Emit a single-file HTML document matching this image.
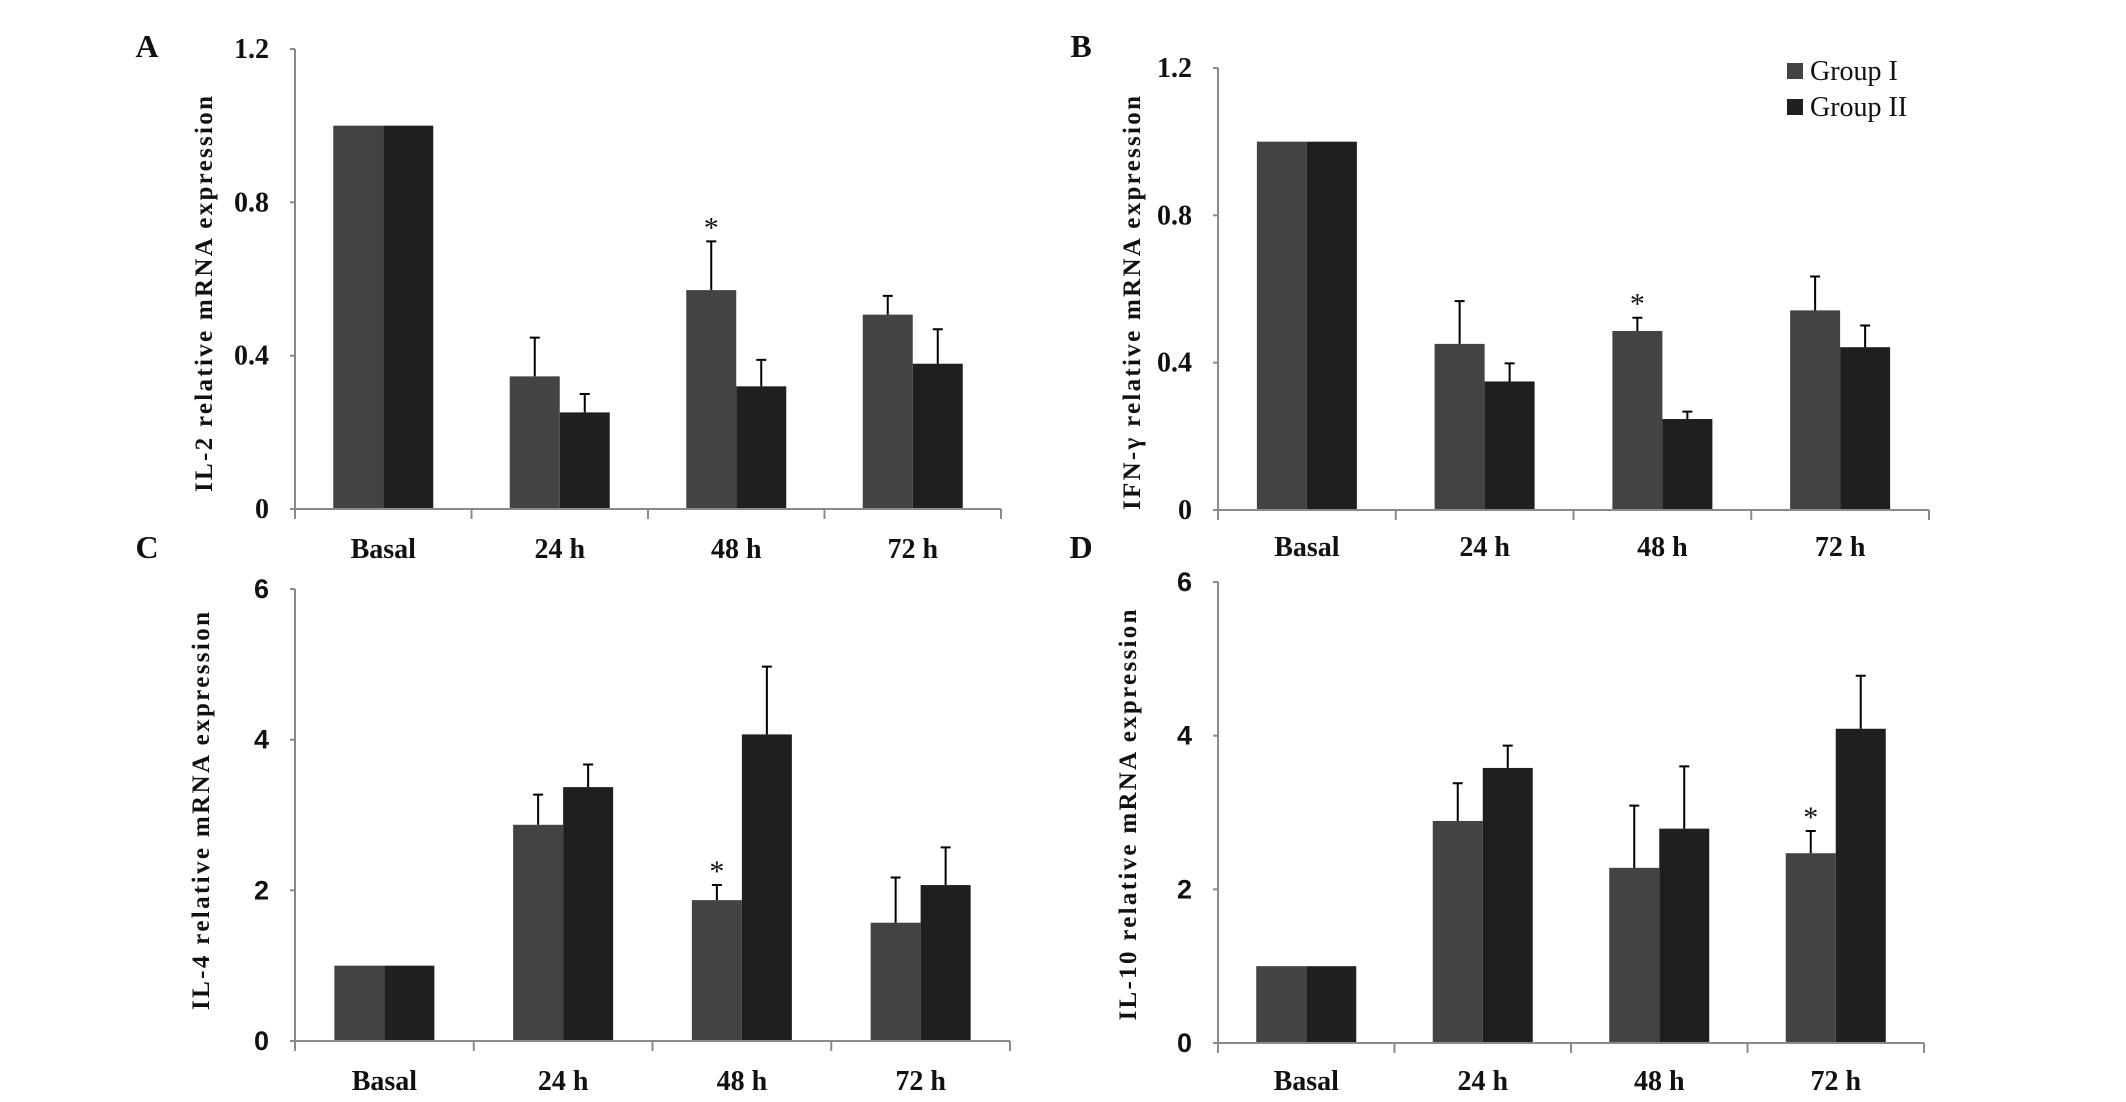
<!DOCTYPE html>
<html><head><meta charset="utf-8">
<style>
html,body{margin:0;padding:0;background:#fff;}
svg{display:block;}
text{font-family:"Liberation Serif",serif;font-weight:bold;fill:#111;}
text.norm{font-weight:normal;}
</style></head>
<body>
<svg id="fig" width="2126" height="1102" viewBox="0 0 2126 1102" xmlns="http://www.w3.org/2000/svg"></svg>
<script>
const categories = ["Basal","24 h","48 h","72 h"];
const seriesNames = ["Group I","Group II"];
// Panel A: IL-2
const aG1 = [1, 0.346, 0.571, 0.507];
const aG1Err = [0, 0.101, 0.127, 0.049];
const aG2 = [1, 0.252, 0.320, 0.379];
const aG2Err = [0, 0.048, 0.069, 0.090];
const aTicks = [0, 0.4, 0.8, 1.2];
const aTickLabels = ["0","0.4","0.8","1.2"];
// Panel B: IFN-gamma
const bG1 = [1, 0.451, 0.486, 0.542];
const bG1Err = [0, 0.116, 0.036, 0.092];
const bG2 = [1, 0.349, 0.247, 0.442];
const bG2Err = [0, 0.049, 0.020, 0.059];
const bTicks = [0, 0.4, 0.8, 1.2];
const bTickLabels = ["0","0.4","0.8","1.2"];
// Panel C: IL-4
const cG1 = [1, 2.87, 1.87, 1.57];
const cG1Err = [0, 0.40, 0.20, 0.60];
const cG2 = [1, 3.37, 4.07, 2.07];
const cG2Err = [0, 0.30, 0.90, 0.50];
const cTicks = [0, 2, 4, 6];
const cTickLabels = ["0","2","4","6"];
// Panel D: IL-10
const dG1 = [1, 2.89, 2.28, 2.47];
const dG1Err = [0, 0.49, 0.81, 0.29];
const dG2 = [1, 3.58, 2.79, 4.09];
const dG2Err = [0, 0.29, 0.81, 0.69];
const dTicks = [0, 2, 4, 6];
const dTickLabels = ["0","2","4","6"];
// significance markers: [category index, series index]
const aSig = [[2,0]];
const bSig = [[2,0]];
const cSig = [[2,0]];
const dSig = [[3,0]];

const NS = "http://www.w3.org/2000/svg";
const svg = document.getElementById("fig");
function mk(tag, attrs, parent){
  const e = document.createElementNS(NS, tag);
  for (const k in attrs) e.setAttribute(k, attrs[k]);
  (parent||svg).appendChild(e);
  return e;
}

const panels = [
  {id:"a", letter:"A", lx:147, ly:46, x0:295, x1:1001, yTop:49, yZero:509, max:1.2,
   ticks:aTicks, tickLabels:aTickLabels, g1:aG1, e1:aG1Err, g2:aG2, e2:aG2Err, sig:aSig,
   title:"IL-2 relative mRNA expression", tx:203, ty:294, tl:396, labY:548, sans:false},
  {id:"b", letter:"B", lx:1081, ly:46, x0:1218, x1:1929, yTop:68, yZero:510, max:1.2,
   ticks:bTicks, tickLabels:bTickLabels, g1:bG1, e1:bG1Err, g2:bG2, e2:bG2Err, sig:bSig,
   title:"IFN-\u03B3 relative mRNA expression", tx:1131, ty:303, tl:414, labY:546, sans:false},
  {id:"c", letter:"C", lx:147, ly:547, x0:295, x1:1010, yTop:589, yZero:1041, max:6,
   ticks:cTicks, tickLabels:cTickLabels, g1:cG1, e1:cG1Err, g2:cG2, e2:cG2Err, sig:cSig,
   title:"IL-4 relative mRNA expression", tx:200, ty:811, tl:398, labY:1080, sans:true},
  {id:"d", letter:"D", lx:1081, ly:547, x0:1218, x1:1924, yTop:582, yZero:1043, max:6,
   ticks:dTicks, tickLabels:dTickLabels, g1:dG1, e1:dG1Err, g2:dG2, e2:dG2Err, sig:dSig,
   title:"IL-10 relative mRNA expression", tx:1127, ty:815, tl:411, labY:1080, sans:true}
];

panels.forEach(p => {
  const g = mk("g", {});
  
  
  const yS = v => p.yZero - v / p.max * (p.yZero - p.yTop);
  const cw = (p.x1 - p.x0) / categories.length;
  const bw = 50;

  const L = mk("text", {x:p.lx, y:p.ly+11, "font-size":32, "text-anchor":"middle"}, g);
  L.textContent = p.letter;
  
  

  const series = [[p.g1,p.e1,"#434343"],[p.g2,p.e2,"#1f1f1f"]];
  series.forEach((s, si) => {
    s[0].forEach((v, i) => {
      const cx = p.x0 + cw * (i + 0.5);
      const bx = cx - bw + si * bw;
      const r = mk("rect", {x:bx, y:yS(v), width:bw, height:p.yZero - yS(v), fill:s[2]}, g);
      
      
      if (s[1][i] > 0) {
        const ex = bx + bw/2, et = yS(v + s[1][i]);
        const el = mk("path", {d:`M${ex},${yS(v)}V${et}M${ex-5},${et}H${ex+5}`, stroke:"#000", "stroke-width":2, fill:"none"}, g);
        
        
      }
    });
  });
  p.sig.forEach(([ci, si]) => {
    const vals = si === 0 ? p.g1 : p.g2, errs = si === 0 ? p.e1 : p.e2;
    const cx = p.x0 + cw * (ci + 0.5) - bw/2 + si*bw;
    const t = mk("text", {x:cx, y:yS(vals[ci] + errs[ci]) - 4, "font-size":30, "class":"norm", "text-anchor":"middle"}, g);
    t.textContent = "*";
    
    
  });

  const ax = mk("path", {d:`M${p.x0},${p.yTop}V${p.yZero}H${p.x1}`, stroke:"#8a8a8a", "stroke-width":2, fill:"none"}, g);
  
  
  p.ticks.forEach((tv, i) => {
    const y = yS(tv);
    mk("line", {x1:p.x0-5, x2:p.x0, y1:y, y2:y, stroke:"#8a8a8a", "stroke-width":2}, g);
    const t = mk("text", {x:p.x0-26, y:y+9, "font-size":p.sans?27:28, "text-anchor":"end",
      style:p.sans?'font-family:"Liberation Sans",sans-serif':''}, g);
    t.textContent = p.tickLabels[i];
    
    
  });
  for (let i = 0; i <= categories.length; i++) {
    const x = p.x0 + cw * i;
    mk("line", {x1:x, x2:x, y1:p.yZero, y2:p.yZero+10, stroke:"#8a8a8a", "stroke-width":2}, g);
  }
  categories.forEach((c, i) => {
    const t = mk("text", {x:p.x0 + cw*(i+0.5), y:p.labY+10, "font-size":28, "text-anchor":"middle"}, g);
    t.textContent = c;
    
    
  });
  const tt = mk("text", {x:0, y:0, "font-size":25, "text-anchor":"middle", textLength:p.tl, lengthAdjust:"spacing",
    transform:`translate(${p.tx+9},${p.ty}) rotate(-90)`}, g);
  tt.textContent = p.title;
  
  
});

const lg = mk("g", {});


const legColors = ["#434343","#1f1f1f"];
const legY = [71, 107];
seriesNames.forEach((n, i) => {
  const sw = mk("rect", {x:1787, y:legY[i]-8, width:16, height:16, fill:legColors[i]}, lg);
  
  
  const t = mk("text", {x:1810, y:legY[i]+9, "font-size":28, "class":"norm"}, lg);
  t.textContent = n;
  
  
});
</script>
</body></html>
